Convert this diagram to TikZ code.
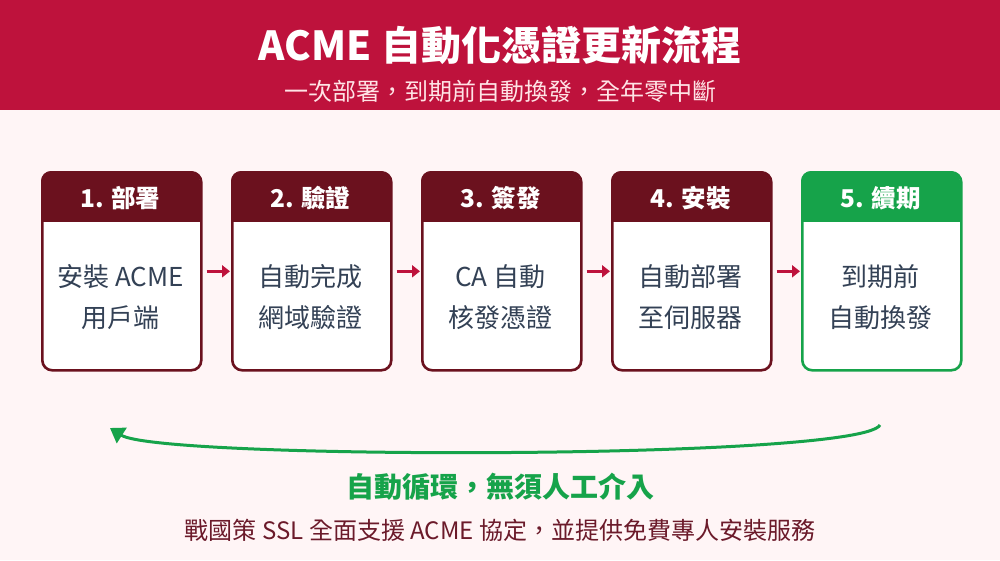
\documentclass[tikz,border=0pt]{standalone}
\usepackage{fontspec}
\setmainfont{Noto Sans CJK TC}
\usetikzlibrary{arrows.meta}
\definecolor{crim}{HTML}{BE123C}
\definecolor{maroon}{HTML}{6B111E}
\definecolor{grn}{HTML}{16A34A}
\definecolor{bg}{HTML}{FFF5F6}
\definecolor{sub}{HTML}{FFE4E6}
\definecolor{body}{HTML}{334155}
\definecolor{foot}{HTML}{6B1A2A}
\tikzset{
  stepbox/.style={draw=#1, line width=2.6pt, rounded corners=10pt, minimum width=159pt, minimum height=198pt, anchor=north west, inner sep=0pt},
  bodytxt/.style={text=body, font=\fontsize{26}{41}\selectfont, align=center},
  headtxt/.style={text=white, font=\fontsize{24.5}{28}\selectfont\bfseries},
  flow/.style={crim, line width=3pt, -{Triangle[length=8pt,width=12pt]}}
}
\begin{document}
\begin{tikzpicture}[x=1pt,y=-1pt]
\useasboundingbox (0,0) rectangle (1000,560);
\fill[bg] (0,0) rectangle (1000,560);
\fill[crim] (0,0) rectangle (1000,110);
\node[text=white, font=\fontsize{40}{44}\selectfont\bfseries] (title) at (500,45) {ACME 自動化憑證更新流程};
\node[text=sub, font=\fontsize{24}{28}\selectfont] (subtitle) at (500,91) {一次部署，到期前自動換發，全年零中斷};
\foreach \i/\h/\a/\b/\c in {1/1. 部署/安裝 ACME/用戶端/maroon, 2/2. 驗證/自動完成/網域驗證/maroon, 3/3. 簽發/CA 自動/核發憑證/maroon, 4/4. 安裝/自動部署/至伺服器/maroon, 5/5. 續期/到期前/自動換發/grn}{
  \pgfmathsetmacro{\xx}{41+(\i-1)*190}
  \begin{scope}
    \clip[rounded corners=10pt] (\xx,171) rectangle ++(159,198);
    \fill[white] (\xx,171) rectangle ++(159,198);
    \fill[\c] (\xx,171) rectangle ++(159,51);
  \end{scope}
  \node[stepbox=\c] (b\i) at (\xx,171) {};
  \node[headtxt] (h\i) at (\xx+79.5,198) {\h};
  \node[bodytxt] (t\i) at (\xx+79.5,297) {\a\\\b};
}
\foreach \i/\j in {1/2,2/3,3/4,4/5}{
  \draw[flow] ([xshift=4pt]b\i.east) -- ([xshift=-1pt]b\j.west);
}
\coordinate (cs) at (880,425);
\coordinate (ce) at (110,428);
\draw[grn, line width=3pt, -{Triangle[length=14pt,width=18pt]}] (cs) .. controls (860,460) and (160,460) .. (ce);
\node[text=grn, font=\fontsize{28}{32}\selectfont\bfseries] (loop) at (500,487) {自動循環，無須人工介入};
\node[text=foot, font=\fontsize{24}{28}\selectfont] (foot) at (500,530) {戰國策 SSL 全面支援 ACME 協定，並提供免費專人安裝服務};
\end{tikzpicture}
\end{document}
